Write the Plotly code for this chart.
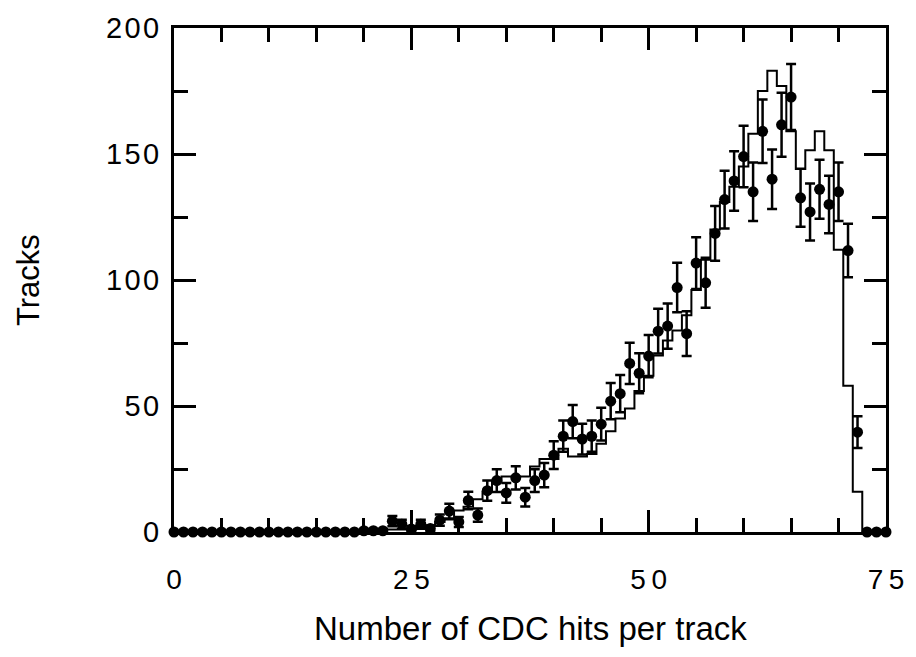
import plotly.graph_objects as go

# Bin centres (number of CDC hits per track)
hits = list(range(0, 76))

# Data: tracks per bin (points with error bars)
data_tracks = [0]*20 + [
    0.5, 0.5, 0.5, 4.3, 3.1, 1.2, 3.1, 1.4, 4.7, 8.3,      # 20-29
    4.0, 12.5, 6.7, 16.4, 20.4, 15.5, 21.5, 13.8, 20.4, 22.6,  # 30-39
    30.5, 38.0, 43.8, 36.9, 38.0, 42.8, 51.9, 54.9, 66.9, 63.0,  # 40-49
    69.8, 79.7, 81.7, 97.0, 78.7, 106.7, 98.9, 118.5, 131.9, 139.3,  # 50-59
    149.0, 135.0, 159.0, 140.0, 161.6, 172.6, 132.6, 127.0, 136.0, 130.0,  # 60-69
    135.0, 111.7, 39.6, 0, 0, 0]                               # 70-75

data_err = [0]*20 + [
    0.7, 0.7, 0.7, 2.0, 1.8, 1.1, 1.8, 1.2, 2.2, 2.9,
    2.0, 3.5, 2.6, 4.0, 4.5, 3.9, 4.6, 3.7, 4.5, 4.8,
    5.5, 6.2, 6.6, 6.1, 6.2, 6.5, 7.2, 7.4, 8.2, 7.9,
    8.4, 8.9, 9.0, 9.8, 8.9, 10.3, 9.9, 10.9, 11.5, 11.8,
    12.2, 11.6, 12.6, 11.8, 12.7, 13.1, 11.5, 11.3, 11.7, 11.4,
    11.6, 10.6, 6.3, 0, 0, 0]

# Monte Carlo histogram
mc_tracks = [0]*20 + [
    0.5, 0.5, 1.0, 1.0, 1.0, 1.0, 2.0, 2.5, 4.0, 5.0,        # 20-29
    8.5, 10.0, 13.0, 16.0, 20.0, 22.0, 22.0, 22.0, 26.0, 29.0,  # 30-39
    29.0, 33.0, 30.0, 30.0, 31.0, 35.0, 40.0, 45.0, 49.0, 56.0,  # 40-49
    62.0, 70.0, 76.0, 80.0, 86.0, 96.0, 108.0, 120.0, 131.0, 137.0,  # 50-59
    145.0, 158.0, 175.0, 183.0, 177.0, 159.0, 144.0, 151.5, 159.0, 151.5,  # 60-69
    112.0, 58.0, 16.0, 0, 0, 0]                               # 70-75

x_major = [0, 25, 50, 75]
y_major = [0, 50, 100, 150, 200]
TS = "\u2009"
x_ticktext = [TS.join(str(v)) for v in x_major]
y_ticktext = ["\u200a".join(str(v)) for v in y_major]

fig = go.Figure()
fig.add_trace(go.Scatter(
    x=hits, y=mc_tracks, mode="lines", line_shape="hvh",
    line=dict(color="black", width=2), showlegend=False, cliponaxis=False))
fig.add_trace(go.Scatter(
    x=hits, y=data_tracks, mode="markers",
    marker=dict(color="black", size=11),
    error_y=dict(type="data", array=data_err, visible=True,
                 color="black", thickness=2.5, width=5),
    showlegend=False, cliponaxis=False))

font_main = "Liberation Sans, Arial, Helvetica, sans-serif"

fig.update_layout(
    width=916, height=657,
    margin=dict(l=174, r=25, t=21, b=125),
    paper_bgcolor="white", plot_bgcolor="white",
    font=dict(family=font_main, color="black"),
)
fig.update_xaxes(
    range=[0, 75], tickmode="array", tickvals=x_major, ticktext=x_ticktext,
    ticks="inside", ticklen=22, tickwidth=3, tickcolor="black",
    minor=dict(dtick=5, tick0=0, ticks="inside", ticklen=14, tickwidth=3,
               tickcolor="black", showgrid=False),
    showline=True, linewidth=3, linecolor="black", mirror="allticks",
    showgrid=False, zeroline=False,
    tickfont=dict(size=28, family=font_main, color="black"),
    ticklabelstandoff=20,
)
fig.update_yaxes(
    range=[0, 200], tickmode="array", tickvals=y_major, ticktext=y_ticktext,
    ticks="inside", ticklen=22, tickwidth=3, tickcolor="black",
    minor=dict(dtick=25, tick0=0, ticks="inside", ticklen=14, tickwidth=3,
               tickcolor="black", showgrid=False),
    showline=True, linewidth=3, linecolor="black", mirror="allticks",
    showgrid=False, zeroline=False,
    tickfont=dict(size=29, family=font_main, color="black"),
    ticklabelstandoff=6,
)

fig.add_annotation(
    text="Number of CDC hits per track", xref="paper", yref="paper",
    x=0.5, y=0, xanchor="center", yanchor="middle",
    yshift=-96, showarrow=False,
    font=dict(size=33, family=font_main, color="black"))
fig.add_annotation(
    text="Tracks", xref="paper", yref="paper",
    x=0, xshift=-146, y=0.5, xanchor="center", yanchor="middle",
    textangle=-90, showarrow=False,
    font=dict(size=31, family=font_main, color="black"))

fig.write_html("out.html")
